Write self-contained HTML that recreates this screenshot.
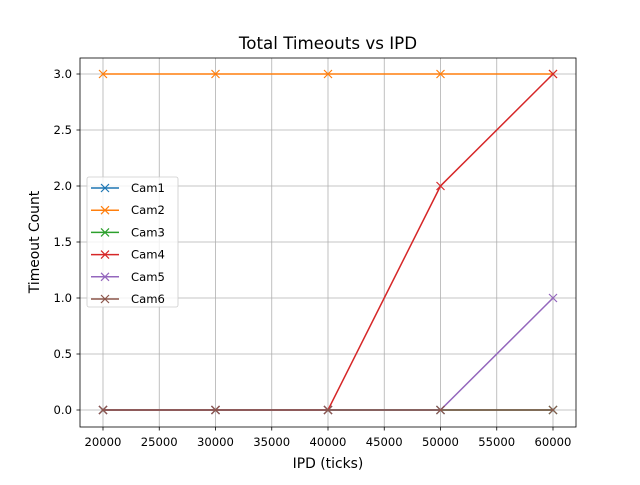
<!DOCTYPE html>
<html><head><meta charset="utf-8"><style>
body{margin:0;background:#fff}
svg{font-family:"DejaVu Sans","Liberation Sans",sans-serif}
</style></head><body>
<svg id="chart" width="640" height="480" viewBox="0 0 640 480">
<rect width="640" height="480" fill="#fff"/>
<text x="328" y="49" font-size="16.7" text-anchor="middle">Total Timeouts vs IPD</text>
<g id="grid"></g>
<g id="series"></g>
<rect x="80" y="58" width="496" height="369" fill="none" stroke="#000" stroke-width="0.8"/>
<g id="ticks"></g>
<text x="328" y="468" font-size="13.9" text-anchor="middle">IPD (ticks)</text>
<text transform="translate(39,242) rotate(-90)" font-size="13.9" text-anchor="middle">Timeout Count</text>
<g id="legend"></g>
</svg>
<script>
const categories=[20000,30000,40000,50000,60000];
const seriesNames=["Cam1","Cam2","Cam3","Cam4","Cam5","Cam6"];
const cam1=[0,0,0,0,0];
const cam2=[3,3,3,3,3];
const cam3=[0,0,0,0,0];
const cam4=[0,0,0,2,3];
const cam5=[0,0,0,0,1];
const cam6=[0,0,0,0,0];
const xTicks=[20000,25000,30000,35000,40000,45000,50000,55000,60000];
const yTicks=[0,0.5,1,1.5,2,2.5,3];
const yTickLabels=["0.0","0.5","1.0","1.5","2.0","2.5","3.0"];
const colors=["#1f77b4","#ff7f0e","#2ca02c","#d62728","#9467bd","#8c564b"];
const allSeries=[cam1,cam2,cam3,cam4,cam5,cam6];
const NS="http://www.w3.org/2000/svg";
const X=v=>103+(v-20000)*450/40000;
const Y=v=>410-v*112;
function mk(tag,attrs,parent){const e=document.createElementNS(NS,tag);for(const k in attrs)e.setAttribute(k,attrs[k]);parent.appendChild(e);return e;}
const grid=document.getElementById('grid'),ticks=document.getElementById('ticks'),ser=document.getElementById('series'),leg=document.getElementById('legend');
xTicks.forEach(t=>{
 const gl=mk('line',{x1:X(t),x2:X(t),y1:58,y2:427,stroke:'#b0b0b0','stroke-width':0.8},grid);
 
 const tl=mk('line',{x1:X(t),x2:X(t),y1:427,y2:430.5,stroke:'#000','stroke-width':0.8},ticks);
 
 const tx=mk('text',{x:X(t),y:446,'font-size':11.6,'text-anchor':'middle'},ticks);tx.textContent=t;
 
});
yTicks.forEach((t,i)=>{
 const gl=mk('line',{x1:80,x2:576,y1:Y(t),y2:Y(t),stroke:'#b0b0b0','stroke-width':0.8},grid);
 
 const tl=mk('line',{x1:76.5,x2:80,y1:Y(t),y2:Y(t),stroke:'#000','stroke-width':0.8},ticks);
 
 const tx=mk('text',{x:72,y:Y(t)+4,'font-size':11.6,'text-anchor':'end'},ticks);tx.textContent=yTickLabels[i];
 
});
function marker(x,y,c,p){const d=`M${x-4},${y-4}L${x+4},${y+4}M${x-4},${y+4}L${x+4},${y-4}`;const m=mk('path',{d:d,stroke:c,'stroke-width':1.2},p);}
allSeries.forEach((s,i)=>{
 const g=mk('g',{},ser);
 const pl=mk('polyline',{points:s.map((v,j)=>X(categories[j])+','+Y(v)).join(' '),fill:'none',stroke:colors[i],'stroke-width':1.5},g);
 
 s.forEach((v,j)=>marker(X(categories[j]),Y(v),colors[i],g));
});
const box=mk('rect',{x:87,y:177,width:91,height:130,rx:2,fill:'#fff','fill-opacity':0.8,stroke:'#ccc','stroke-width':0.8},leg);

seriesNames.forEach((n,i)=>{
 const y=188+i*22.2;
 const g=mk('g',{},leg);
 mk('line',{x1:91,x2:119,y1:y,y2:y,stroke:colors[i],'stroke-width':1.5},g);
 marker(105,y,colors[i],g);
 const t=mk('text',{x:131,y:y+4,'font-size':11.6},g);t.textContent=n;
});
</script>
</body></html>
